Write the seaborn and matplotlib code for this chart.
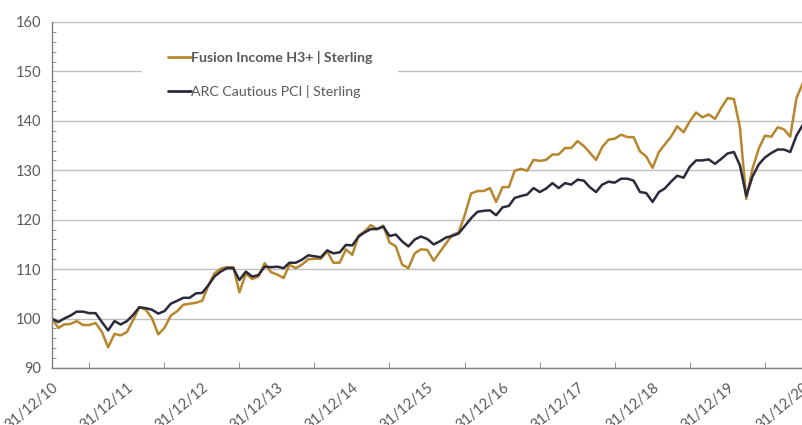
import pandas as pd
import matplotlib
matplotlib.use("Agg")
import matplotlib.pyplot as plt
from matplotlib.patches import Rectangle
from matplotlib.ticker import MultipleLocator
import seaborn as sns

# month-end index values, Dec 2010 = 100
fusion = [100.0, 98.1, 98.8, 98.9, 99.5, 98.7, 98.7, 99.1, 97.3, 94.2, 96.9, 96.6,
          97.3, 99.8, 102.3, 101.8, 100.1, 96.8, 98.1, 100.6, 101.5, 102.8, 103.0, 103.2,
          103.6, 106.8, 109.1, 110.1, 110.4, 110.4, 105.3, 109.1, 108.0, 108.5, 111.2, 109.4,
          108.9, 108.2, 110.9, 110.2, 110.9, 112.0, 112.1, 112.1, 113.6, 111.3, 111.3, 114.0,
          112.9, 116.8, 117.6, 118.9, 118.1, 118.8, 115.4, 114.6, 110.9, 110.2, 113.2, 114.0,
          113.9, 111.7, 113.4, 115.2, 116.9, 117.4, 120.9, 125.3, 125.8, 125.8, 126.4, 123.6,
          126.6, 126.6, 129.9, 130.3, 129.9, 132.1, 131.9, 132.1, 133.2, 133.2, 134.5, 134.5,
          135.9, 134.9, 133.6, 132.1, 134.7, 136.2, 136.4, 137.2, 136.7, 136.7, 133.8, 132.8,
          130.5, 133.7, 135.2, 136.8, 138.9, 137.7, 139.9, 141.7, 140.7, 141.3, 140.4, 142.6,
          144.6, 144.4, 138.7, 124.2, 130.3, 134.4, 137.0, 136.8, 138.7, 138.3, 136.8, 144.6,
          147.6]
arc = [100.0, 99.3, 100.0, 100.6, 101.4, 101.4, 101.1, 101.1, 99.3, 97.6, 99.5, 98.8,
       99.5, 100.8, 102.3, 102.1, 101.8, 101.0, 101.5, 103.0, 103.6, 104.2, 104.2, 105.1,
       105.2, 106.8, 108.5, 109.5, 110.2, 110.2, 107.8, 109.5, 108.5, 108.8, 110.5, 110.4,
       110.5, 110.2, 111.3, 111.3, 111.9, 112.8, 112.6, 112.4, 113.8, 113.2, 113.4, 114.9,
       114.8, 116.6, 117.4, 118.1, 118.1, 118.6, 116.7, 117.0, 115.6, 114.6, 116.0, 116.6,
       116.1, 115.0, 115.6, 116.4, 116.7, 117.2, 118.7, 120.3, 121.6, 121.8, 121.9, 120.9,
       122.5, 122.8, 124.4, 124.8, 125.1, 126.4, 125.6, 126.3, 127.4, 126.4, 127.4, 127.1,
       128.1, 127.9, 126.6, 125.6, 127.1, 127.7, 127.5, 128.3, 128.3, 127.9, 125.6, 125.4,
       123.6, 125.6, 126.3, 127.7, 128.9, 128.5, 130.7, 132.0, 132.0, 132.2, 131.3, 132.3,
       133.4, 133.7, 131.0, 124.8, 128.7, 131.2, 132.6, 133.5, 134.2, 134.2, 133.7, 137.0,
       139.2]
dates = pd.date_range("2010-12-31", periods=len(fusion), freq="ME")
series_names = ["Fusion Income H3+ | Sterling", "ARC Cautious PCI | Sterling"]
tick_years = list(range(2010, 2021))

df = pd.DataFrame({"date": dates, series_names[0]: fusion, series_names[1]: arc})
long_df = df.melt(id_vars="date", var_name="fund", value_name="value")

sns.set_style("white")
plt.rcParams["font.family"] = ["Lato", "DejaVu Sans"]

fig = plt.figure(figsize=(8.03, 4.25), dpi=100)
ax = fig.add_axes([52 / 803, 57 / 425, 751 / 803, 346 / 425])

palette = {series_names[0]: "#B8862C", series_names[1]: "#2A2A3C"}
sns.lineplot(data=long_df, x="date", y="value", hue="fund", palette=palette,
             linewidth=1.8, ax=ax)

grey = "#7F7F7F"
ax.set_ylim(90, 160)
ax.yaxis.set_major_locator(MultipleLocator(10))
ax.yaxis.set_minor_locator(MultipleLocator(2))
ax.grid(axis="y", color="#BFBFBF", linewidth=1.0)
ax.set_axisbelow(True)

major = [pd.Timestamp(f"{y}-12-31") for y in tick_years]
minor = [pd.Timestamp(f"{y}-06-30") for y in range(2011, 2021)]
ax.set_xticks(major)
ax.set_xticks(minor, minor=True)
ax.set_xticklabels([d.strftime("%d/%m/%y") for d in major])
ax.set_xlim(pd.Timestamp("2010-12-31"), pd.Timestamp("2021-01-01"))

for s in ["top", "right"]:
    ax.spines[s].set_visible(False)
for s in ["left", "bottom"]:
    ax.spines[s].set_color(grey)
    ax.spines[s].set_linewidth(1.0)

ax.tick_params(axis="y", which="major", direction="out", length=5, color=grey,
               labelsize=10.5, labelcolor="#595959", pad=3)
ax.tick_params(axis="y", which="minor", direction="in", length=3, color=grey, left=True)
ax.tick_params(axis="x", which="major", direction="inout", length=8, color=grey,
               labelsize=10.5, labelcolor="#595959", pad=5)
ax.tick_params(axis="x", which="minor", direction="in", length=4, color=grey, bottom=True)
plt.setp(ax.get_xticklabels(), rotation=40, ha="right", rotation_mode="anchor")

ax.set_xlabel("")
ax.set_ylabel("")

# white legend backdrop that hides the 150 gridline behind the legend
ax.add_patch(Rectangle((142 / 803, 1 - 108 / 425), 256 / 803, 72 / 425,
                       transform=fig.transFigure, facecolor="white",
                       edgecolor="none", zorder=1))

leg = ax.legend(loc="upper left", bbox_to_anchor=(168 / 803, 1 - 51 / 425),
                bbox_transform=fig.transFigure, frameon=False,
                fontsize=10.2, handlelength=1.6, handletextpad=0.0,
                labelspacing=1.45, borderpad=0, borderaxespad=0)
for t in leg.get_texts():
    t.set_color("#595959")
leg.get_texts()[0].set_fontweight("bold")
for h in leg.get_lines():
    h.set_linewidth(2.0)

fig.savefig("out.png", dpi=100)
